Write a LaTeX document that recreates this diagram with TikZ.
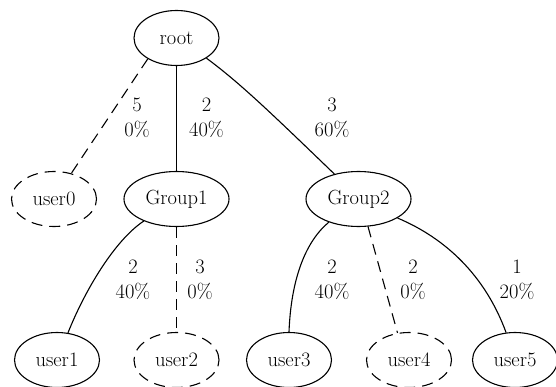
\documentclass[tikz,border=0pt]{standalone}
\usetikzlibrary{shapes.geometric}
\begin{document}
\begin{tikzpicture}[x=1pt,y=-1pt,
  every node/.style={font=\fontsize{20.5}{25}\selectfont},
  nd/.style={ellipse,draw,line width=1.1pt,inner sep=0pt,minimum width=85pt,minimum height=55pt},
  gnd/.style={nd,minimum width=105pt},
  dsh/.style={dash pattern=on 11pt off 7pt},
  edge/.style={line width=1.1pt},
  lbl/.style={align=center,inner sep=0pt}]
\useasboundingbox (0,0) rectangle (556,387);
\node[nd] (root) at (176.5,38) {root};
\node[nd,dsh] (user0) at (54,199) {user0};
\node[gnd] (Group1) at (176.5,199) {Group1};
\node[gnd] (Group2) at (358.5,199) {Group2};
\node[nd] (user1) at (57,360) {user1};
\node[nd,dsh] (user2) at (176.5,360) {user2};
\node[nd] (user3) at (289,360) {user3};
\node[nd,dsh] (user4) at (409,360) {user4};
\node[nd] (user5) at (515,360) {user5};

\draw[edge,dsh] (root.216) -- (user0.56);
\draw[edge] (root) -- (Group1);
\draw[edge] (root.-34) .. controls (240,83) and (270,112) .. (Group2.134);
\draw[edge] (Group1.214) .. controls (115,240) and (85,290) .. (user1.68);
\draw[edge,dsh] (Group1) -- (user2);
\draw[edge] (Group2.218) .. controls (305,242) and (291,280) .. (user3.90);
\draw[edge,dsh] (Group2.-71) -- (user4.113);
\draw[edge] (Group2.-26) .. controls (445,238) and (485,275) .. (user5.108);

\node[lbl] (l0) at (137,117.5) {5\\0\%};
\node[lbl] (l1) at (206.5,117.5) {2\\40\%};
\node[lbl] (l2) at (332,117.5) {3\\60\%};
\node[lbl] (l3) at (133,280) {2\\40\%};
\node[lbl] (l4) at (200,280) {3\\0\%};
\node[lbl] (l5) at (332,280) {2\\40\%};
\node[lbl] (l6) at (413,280) {2\\0\%};
\node[lbl] (l7) at (517,280) {1\\20\%};
\end{tikzpicture}
\end{document}
